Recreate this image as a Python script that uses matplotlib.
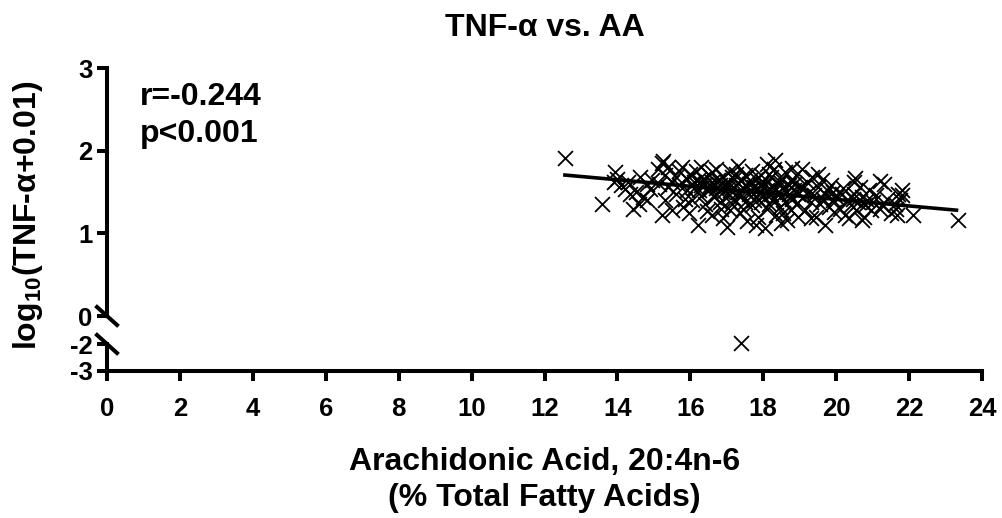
import matplotlib
matplotlib.use("Agg")
import matplotlib.pyplot as plt
from matplotlib.lines import Line2D

plt.rcParams['font.family'] = ['Liberation Sans', 'DejaVu Sans']
plt.rcParams['font.weight'] = 'bold'
plt.rcParams['axes.unicode_minus'] = False
plt.rcParams['mathtext.fontset'] = 'custom'
plt.rcParams['mathtext.rm'] = 'Liberation Sans:bold'
plt.rcParams['mathtext.it'] = 'Liberation Sans:bold'

# AA (% total fatty acids) vs log10(TNF-a + 0.01)
aa = [12.56, 13.57, 13.93, 14.0, 14.1, 13.9, 14.2,
      14.44, 14.62, 14.3, 14.5, 14.7, 14.8, 14.9, 14.35, 14.6, 14.95, 14.8,
      15.21, 15.21, 15.1, 15.3, 15.4, 15.5, 15.6, 15.7, 15.8, 15.9, 15.3, 15.5,
      15.7, 15.9, 15.4, 15.6, 15.85, 15.15, 15.95, 15.25, 15.76,
      16.0, 16.1, 16.2, 16.2, 16.3, 16.3, 16.4, 16.4, 16.5, 16.5, 16.6, 16.6,
      16.7, 16.7, 16.8, 16.8, 16.9, 16.9, 16.05, 16.15, 16.25, 16.35, 16.45,
      16.55, 16.65, 16.75, 16.85, 16.95, 16.1, 16.6, 16.9, 16.3, 16.7,
      17.0, 17.0, 17.05, 17.1, 17.1, 17.15, 17.2, 17.2, 17.25, 17.3, 17.3,
      17.35, 17.4, 17.4, 17.45, 17.5, 17.5, 17.55, 17.6, 17.6, 17.65, 17.7,
      17.7, 17.75, 17.8, 17.8, 17.85, 17.9, 17.9, 17.95, 17.05, 17.15, 17.35,
      17.45, 17.65, 17.75, 17.85, 17.25, 17.55, 17.95, 17.1, 17.8,
      18.0, 18.0, 18.05, 18.1, 18.1, 18.15, 18.2, 18.2, 18.25, 18.3, 18.3,
      18.35, 18.4, 18.4, 18.45, 18.5, 18.5, 18.55, 18.6, 18.6, 18.65, 18.7,
      18.7, 18.75, 18.8, 18.8, 18.85, 18.9, 18.9, 18.95, 18.05, 18.15, 18.25,
      18.35, 18.45, 18.55, 18.65, 18.75, 18.85, 18.95, 18.1, 18.5, 18.32, 18.78,
      19.0, 19.05, 19.1, 19.15, 19.2, 19.25, 19.3, 19.35, 19.4, 19.45, 19.5,
      19.55, 19.6, 19.65, 19.7, 19.75, 19.8, 19.85, 19.9, 19.95, 19.1, 19.3,
      19.5, 19.7, 19.9,
      20.0, 20.1, 20.2, 20.25, 20.3, 20.4, 20.5, 20.5, 20.55, 20.6, 20.7,
      20.75, 20.8, 20.9, 20.95, 20.15, 20.35, 20.65, 20.85, 20.45, 20.52, 20.7,
      21.0, 21.1, 21.2, 21.3, 21.4, 21.5, 21.6, 21.7, 21.75, 21.8, 21.25,
      21.65, 21.2, 21.8, 21.66,
      22.1, 23.34, 17.4]
tnf = [1.91, 1.36, 1.745, 1.66, 1.58, 1.62, 1.54,
       1.30, 1.685, 1.62, 1.50, 1.44, 1.60, 1.54, 1.47, 1.36, 1.65, 1.40,
       1.22, 1.85, 1.78, 1.70, 1.56, 1.62, 1.48, 1.75, 1.32, 1.66, 1.40, 1.28,
       1.58, 1.52, 1.80, 1.68, 1.42, 1.60, 1.25, 1.87, 1.80,
       1.72, 1.55, 1.10, 1.64, 1.80, 1.45, 1.60, 1.35, 1.70, 1.52, 1.22, 1.62,
       1.78, 1.48, 1.58, 1.38, 1.68, 1.50, 1.40, 1.75, 1.53, 1.66, 1.27,
       1.58, 1.44, 1.65, 1.30, 1.57, 1.62, 1.74, 1.18, 1.58, 1.55,
       1.08, 1.62, 1.46, 1.75, 1.52, 1.35, 1.66, 1.42, 1.58, 1.82, 1.50,
       1.25, 1.63, 1.45, 1.55, 1.70, 1.38, 1.15, 1.60, 1.48, 1.52, 1.76,
       1.34, 1.56, 1.66, 1.44, 1.20, 1.58, 1.50, 1.70, 1.56, 1.68, 1.48,
       1.30, 1.64, 1.40, 1.54, 1.72, 1.57, 1.38, 1.28, 1.10,
       1.62, 1.45, 1.07, 1.84, 1.52, 1.35, 1.68, 1.48, 1.56, 1.78, 1.42,
       1.22, 1.60, 1.50, 1.32, 1.66, 1.45, 1.55, 1.74, 1.38, 1.16, 1.58,
       1.48, 1.28, 1.64, 1.42, 1.52, 1.70, 1.35, 1.47, 1.58, 1.72, 1.40,
       1.54, 1.62, 1.25, 1.50, 1.44, 1.60, 1.20, 1.30, 1.12, 1.89, 1.79,
       1.56, 1.78, 1.44, 1.28, 1.62, 1.50, 1.38, 1.68, 1.46, 1.20, 1.56,
       1.36, 1.64, 1.42, 1.10, 1.52, 1.32, 1.58, 1.40, 1.26, 1.55, 1.18,
       1.72, 1.48, 1.50,
       1.44, 1.30, 1.55, 1.22, 1.40, 1.34, 1.62, 1.48, 1.28, 1.38, 1.44,
       1.20, 1.34, 1.52, 1.28, 1.48, 1.18, 1.56, 1.40, 1.42, 1.665, 1.16,
       1.38, 1.46, 1.30, 1.60, 1.42, 1.25, 1.36, 1.48, 1.40, 1.46, 1.34,
       1.30, 1.63, 1.52, 1.22,
       1.22, 1.16, -1.96]

# linear fit line (end points)
fit_x = [12.56, 23.3]
fit_y = [1.705, 1.28]

up_x = [x for x, y in zip(aa, tnf) if y >= 0]
up_y = [y for y in tnf if y >= 0]
lo_x = [x for x, y in zip(aa, tnf) if y < 0]
lo_y = [y for y in tnf if y < 0]

W, H = 1002, 518
fig = plt.figure(figsize=(W / 100, H / 100), dpi=100)
left, right = 107 / W, 982 / W
ax_top = fig.add_axes([left, 1 - 316 / H, right - left, (316 - 68) / H])
ax_bot = fig.add_axes([left, 1 - 371 / H, right - left, (371 - 344) / H])

lw = 2.9
ax_top.scatter(up_x, up_y, marker='x', s=115, color='black', linewidths=1.3, zorder=3)
ax_top.plot(fit_x, fit_y, color='black', lw=2.6, zorder=4)
ax_bot.scatter(lo_x, lo_y, marker='x', s=115, color='black', linewidths=1.3, zorder=3,
               clip_on=False)

for ax in (ax_top, ax_bot):
    ax.set_xlim(0, 24)
    for side in ('top', 'right'):
        ax.spines[side].set_visible(False)
    for side in ('left', 'bottom'):
        ax.spines[side].set_linewidth(lw)
    ax.tick_params(direction='out', length=7.5, width=lw, labelsize=18.5, pad=3)

ax_top.set_ylim(0, 3)
ax_top.set_yticks([0, 1, 2, 3])
ax_top.spines['bottom'].set_visible(False)
ax_top.tick_params(axis='x', bottom=False, labelbottom=False)

ax_bot.set_ylim(-3, -2)
ax_bot.set_yticks([-3, -2])
ax_bot.set_xticks(range(0, 25, 2))
ax_bot.tick_params(axis='x', pad=11)

# axis break marks
dx, dy = 10 / W, 9 / H
for yc in (1 - 316 / H, 1 - 344 / H):
    fig.add_artist(Line2D([left - dx, left + dx], [yc + dy, yc - dy],
                          color='black', lw=lw, transform=fig.transFigure))

fig.text(0.5 * (left + right), 1 - 28 / H, 'TNF-α vs. AA', ha='center', va='center',
         fontsize=23, fontweight='bold')
fig.text(0.5 * (left + right), 1 - 480 / H, 'Arachidonic Acid, 20:4n-6\n(% Total Fatty Acids)',
         ha='center', va='center', fontsize=23, fontweight='bold', linespacing=1.25)
fig.text(28 / W, 1 - 215 / H, r'log$_{10}$(TNF-α+0.01)', rotation=90, ha='center',
         va='center', fontsize=23, fontweight='bold')
fig.text(140 / W, 1 - 82 / H, 'r=-0.244\np<0.001', ha='left', va='top',
         fontsize=23, fontweight='bold', linespacing=1.3)

fig.savefig('out.png', dpi=100)
